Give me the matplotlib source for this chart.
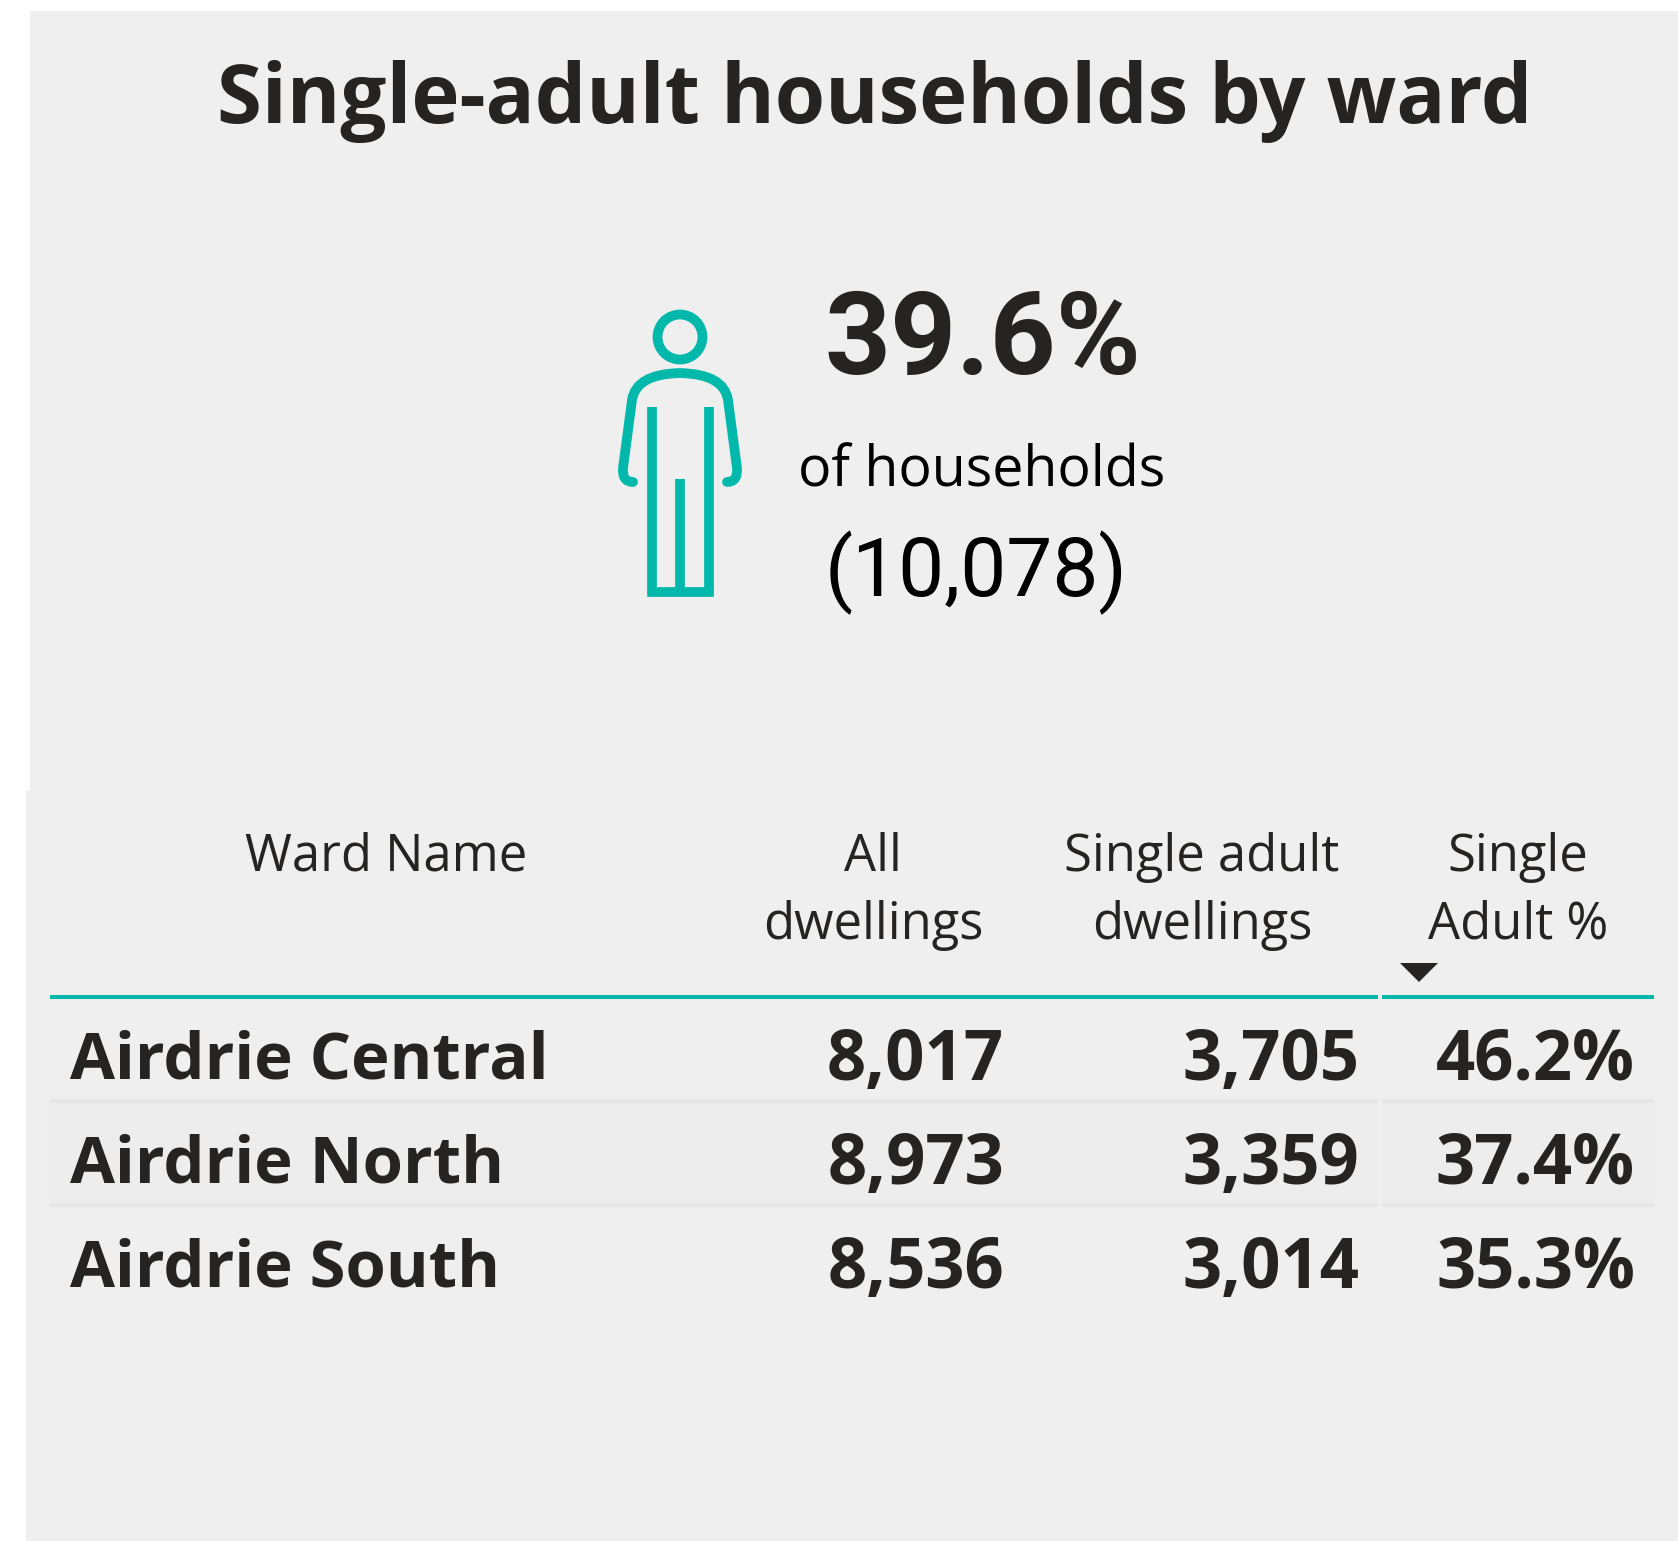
import matplotlib
matplotlib.use("Agg")
import matplotlib.pyplot as plt
from matplotlib.patches import Circle, PathPatch, Polygon, Rectangle
from matplotlib.path import Path

wards = ["Airdrie Central", "Airdrie North", "Airdrie South"]
all_dwellings = [8017, 8973, 8536]
single_adult = [3705, 3359, 3014]
single_pct = [46.2, 37.4, 35.3]

total_pct = 39.6
total_households = 10078

INK = "#252423"
TEAL = "#01B8AA"
BG = "#EFEFEF"

fig = plt.figure(figsize=(16.78, 15.41), dpi=100, facecolor="white")
ax = fig.add_axes([0, 0, 1, 1])
ax.set_xlim(0, 1678)
ax.set_ylim(1541, 0)
ax.axis("off")

# background panels
ax.add_patch(Rectangle((30, 11), 1648, 780, fc=BG, ec="none"))
ax.add_patch(Rectangle((26, 791), 1652, 750, fc=BG, ec="none"))

ax.text(875, 101, "Single-adult households by ward", ha="center", va="center",
        fontsize=58.7, fontweight="bold", family="Open Sans", color=INK)

# person icon
lw = 7.0
ax.add_patch(Circle((680, 337), 22.5, fc="none", ec=TEAL, lw=lw))
codes = [Path.MOVETO, Path.CURVE3, Path.CURVE3, Path.LINETO,
         Path.CURVE3, Path.CURVE3, Path.CURVE3, Path.CURVE3,
         Path.LINETO, Path.CURVE3, Path.CURVE3]
verts = [(633, 482), (622, 482), (623, 468), (632, 400),
         (636, 374), (680, 373), (724, 374), (728, 400),
         (737, 468), (738, 482), (727, 482)]
ax.add_patch(PathPatch(Path(verts, codes), fc="none", ec=TEAL, lw=lw, capstyle="round"))
ax.plot([652, 652, 708.5, 708.5], [407, 592, 592, 407], color=TEAL, lw=lw,
        solid_capstyle="butt", solid_joinstyle="miter")
ax.plot([680, 680], [479, 590], color=TEAL, lw=lw, solid_capstyle="butt")

ax.text(983, 342, f"{total_pct}%", ha="center", va="center", fontsize=83,
        fontweight="bold", family="Roboto", color=INK)
ax.text(982, 472, "of households", ha="center", va="center", fontsize=40,
        family="Open Sans", color="black")
ax.text(976, 573, f"({total_households:,})", ha="center", va="center", fontsize=59,
        family="Roboto", color="black")

# table header
header_kw = dict(ha="center", va="center", fontsize=36.5, family="Open Sans", color=INK)
ax.text(386, 857, "Ward Name", **header_kw)
ax.text(873, 857, "All", **header_kw)
ax.text(873, 925, "dwellings", **header_kw)
ax.text(1202, 857, "Single adult", **header_kw)
ax.text(1202, 925, "dwellings", **header_kw)
ax.text(1518, 857, "Single", **header_kw)
ax.text(1518, 925, "Adult %", **header_kw)
ax.add_patch(Polygon([(1400, 963), (1438, 963), (1419, 982)], fc=INK, ec="none"))

# table rules and banded row
ax.add_patch(Rectangle((50, 1103), 1328, 100, fc="#EDEDED", ec="none"))
ax.add_patch(Rectangle((1382, 1103), 272, 100, fc="#EDEDED", ec="none"))
for x0, x1 in [(50, 1378), (1382, 1654)]:
    ax.add_patch(Rectangle((x0, 995), x1 - x0, 4, fc=TEAL, ec="none"))
    for y in (1099, 1203):
        ax.add_patch(Rectangle((x0, y), x1 - x0, 4, fc="#E6E6E6", ec="none"))

row_y = [1062, 1166, 1270]
cell_kw = dict(va="center", fontweight="bold", family="Open Sans", color=INK)
for y, name, a, s, p in zip(row_y, wards, all_dwellings, single_adult, single_pct):
    ax.text(70, y, name, ha="left", fontsize=47, **cell_kw)
    ax.text(1004, y, f"{a:,}", ha="right", fontsize=49.5, **cell_kw)
    ax.text(1359, y, f"{s:,}", ha="right", fontsize=49.5, **cell_kw)
    ax.text(1635, y, f"{p}%", ha="right", fontsize=49.5, **cell_kw)

fig.savefig("out.png", dpi=100, facecolor="white")
